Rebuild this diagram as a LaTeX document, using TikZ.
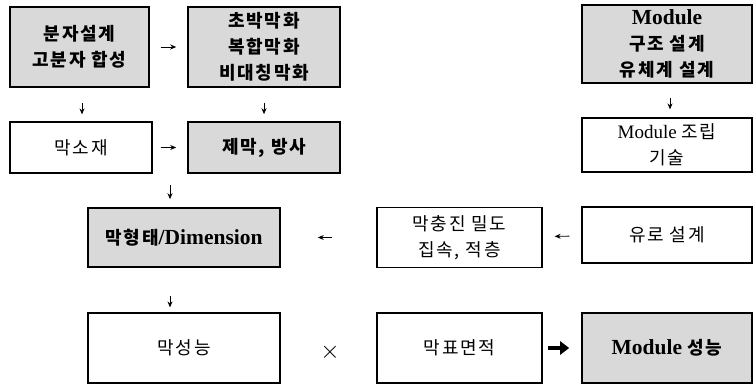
\documentclass[tikz,border=0pt]{standalone}
\usepackage{fontspec}
\setmainfont{Liberation Serif}
\newfontfamily\krf{Noto Sans CJK KR}[LetterSpace=10]
\newcommand{\K}[1]{{\krf\fontsize{18}{26}\selectfont #1}}
\usetikzlibrary{arrows.meta}
\begin{document}
\begin{tikzpicture}[x=1pt,y=-1pt,
  box/.style={draw=black,line width=1.2pt,align=center,inner sep=0pt,
    font=\fontsize{19}{26}\selectfont},
  gbox/.style={box,fill=gray!30,line width=1.6pt,font=\fontsize{21.5}{26}\selectfont\bfseries},
  arr/.style={line width=0.9pt,-{Stealth[length=6pt,width=5pt]}},
  bigarr/.style={line width=4pt,-{Triangle[length=9pt,width=13pt]}}]
\useasboundingbox (0,0) rectangle (755,385);
% row 1
\node[gbox,minimum width=139pt,minimum height=80pt] (A) at (79.5,47) {\K{분자설계}\\\K{고분자 합성}};
\node[gbox,minimum width=152pt,minimum height=80pt] (B) at (264,47) {\K{초박막화}\\\K{복합막화}\\\K{비대칭막화}};
\node[gbox,minimum width=170pt,minimum height=78pt] (C) at (667,44) {Module\\\K{구조 설계}\\\K{유체계 설계}};
% row 2
\node[box,minimum width=142pt,minimum height=51pt] (D) at (81,147.5) {\K{막소재}};
\node[gbox,minimum width=152pt,minimum height=51pt] (E) at (264,147.5) {\K{제막, 방사}};
\node[box,minimum width=170pt,minimum height=54pt] (F) at (667,145) {Module \K{조립}\\\K{기술}};
% row 3
\node[gbox,minimum width=192pt,minimum height=59pt] (G) at (184,237.5) {\K{막형태}/Dimension};
\node[box,minimum width=165pt,minimum height=60pt] (H) at (459.5,237.5) {\K{막충진 밀도}\\\K{집속, 적층}};
\node[box,minimum width=170pt,minimum height=56pt] (I) at (667,235) {\K{유로 설계}};
% row 4
\node[box,minimum width=192pt,minimum height=70pt] (J) at (184,348) {\K{막성능}};
\node[font=\fontsize{30}{30}\selectfont] (X) at (330,352) {$\times$};
\node[box,minimum width=165pt,minimum height=70pt] (K) at (459.5,348) {\K{막표면적}};
\node[gbox,minimum width=170pt,minimum height=70pt] (L) at (667,348) {Module \K{성능}};
% connectors
\draw[arr,shorten <=11pt,shorten >=11pt] (A) -- (B);
\draw[arr,shorten <=15pt,shorten >=7pt] (A.south -| 82,0) -- (D.north -| 82,0);
\draw[arr,shorten <=15pt,shorten >=7pt] (B.south) -- (E.north);
\draw[arr,shorten <=8pt,shorten >=11pt] (D) -- (E);
\coordinate (m1) at (170,173);
\draw[arr,shorten <=12pt,shorten >=8pt] (m1) -- (m1 |- G.north);
\draw[arr,shorten <=14pt,shorten >=8pt] (C.south -| 670,0) -- (F.north -| 670,0);
\draw[arr,shorten <=12pt,shorten >=12pt] (I) -- (H);
\draw[arr,shorten <=44pt,shorten >=37pt] (H) -- (G);
\draw[arr,shorten <=28pt,shorten >=5pt] (G.south -| 170,0) -- (J.north -| 170,0);
\draw[bigarr,shorten <=5pt,shorten >=12pt] (K) -- (L);
\end{tikzpicture}
\end{document}
